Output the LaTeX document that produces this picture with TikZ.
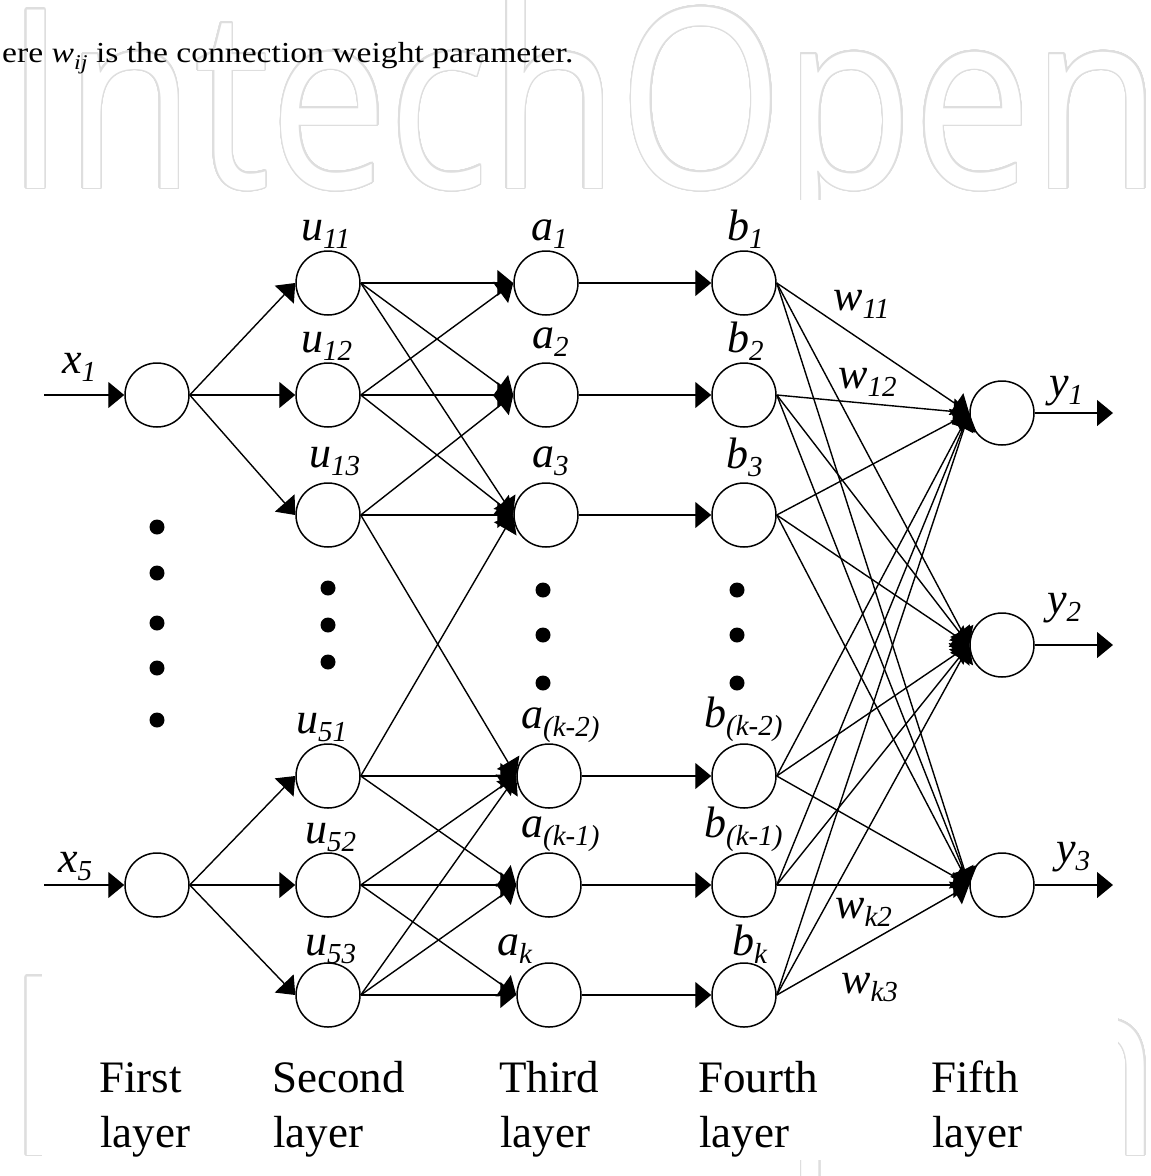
\documentclass[tikz,border=0pt]{standalone}
\usepackage{fontspec}
\usepackage{graphicx}
\usepackage[copies]{contour}
\setmainfont{Liberation Serif}
\newfontfamily\wmfont{Open Sans}
\usetikzlibrary{arrows.meta}

% lowered italic index used in the node labels
\newcommand\lsub[1]{\raisebox{-8pt}{\fontsize{29}{29}\selectfont #1}}
% hollow lettering of the background logo
\contourlength{1.7pt}
\contournumber{32}
\newcommand\logoword{\scalebox{0.846}[1]{\wmfont\fontsize{250}{250}\selectfont\contour{black!13}{IntechOpen}}}

\begin{document}
\begin{tikzpicture}[x=1pt,y=-1pt,
  neuron/.style={circle,draw=black,line width=1.5pt,minimum size=64pt,inner sep=0pt},
  link/.style={line width=1.4pt,-{Triangle[length=16pt,width=26pt]}},
  lab/.style={anchor=base west,inner sep=0pt,font=\fontsize{44}{44}\selectfont\itshape},
  layertitle/.style={anchor=base west,inner sep=0pt,font=\fontsize{45}{45}\selectfont},
  logo/.style={anchor=base west,inner sep=0pt,text=white},
  dot/.style={fill=black}
]
\useasboundingbox (0,0) rectangle (1151,1176);
\fill[white] (0,0) rectangle (1151,1176);

% background logo, two rows, partly covered by the figure panel
\node[logo] (logotop) at (6,188) {\logoword};
\node[logo] (logobot) at (6,1155) {\logoword};
\fill[white] (42,200) rectangle (1118,1160);

% running text line
\node[anchor=base west,inner sep=0pt] (caption) at (2,62)
  {\scalebox{1.16}[1]{\fontsize{29}{29}\selectfont ere \textit{w}\raisebox{-7pt}{\fontsize{21}{21}\selectfont\textit{ij}} is the connection weight parameter.}};

% first layer
\node[neuron] (x1n) at (157,395) {};
\node[neuron] (x5n) at (157,885) {};
% second layer
\node[neuron] (u11) at (328,283) {};
\node[neuron] (u12) at (328,395) {};
\node[neuron] (u13) at (328,515) {};
\node[neuron] (u51) at (328,776) {};
\node[neuron] (u52) at (328,885) {};
\node[neuron] (u53) at (328,995) {};
% third layer
\node[neuron] (a1) at (546,283) {};
\node[neuron] (a2) at (546,395) {};
\node[neuron] (a3) at (546,515) {};
\node[neuron] (ak2) at (549,776) {};
\node[neuron] (ak1) at (549,885) {};
\node[neuron] (ak) at (549,995) {};
% fourth layer
\node[neuron] (b1) at (744,283) {};
\node[neuron] (b2) at (744,395) {};
\node[neuron] (b3) at (744,515) {};
\node[neuron] (bk2) at (744,776) {};
\node[neuron] (bk1) at (744,885) {};
\node[neuron] (bk) at (744,995) {};
% fifth layer
\node[neuron] (y1n) at (1002,413) {};
\node[neuron] (y2n) at (1002,645) {};
\node[neuron] (y3n) at (1002,885) {};

% inputs and outputs
\coordinate (in1) at (44,395);
\coordinate (in5) at (44,885);
\coordinate (out1) at (1113,413);
\coordinate (out2) at (1113,645);
\coordinate (out3) at (1113,885);
\draw[link] (in1) -- (x1n.west);
\draw[link] (in5) -- (x5n.west);
\draw[link] (y1n.east) -- (out1);
\draw[link] (y2n.east) -- (out2);
\draw[link] (y3n.east) -- (out3);

% first -> second layer
\foreach \t in {u11,u12,u13} \draw[link] (x1n.east) -- (\t.west);
\foreach \t in {u51,u52,u53} \draw[link] (x5n.east) -- (\t.west);

% second -> third layer
\foreach \s/\t in {u11/a1,u11/a2,u11/a3,
                   u12/a1,u12/a2,u12/a3,
                   u13/a2,u13/a3,u13/ak2,
                   u51/a3,u51/ak2,u51/ak1,
                   u52/ak2,u52/ak1,u52/ak,
                   u53/ak2,u53/ak1,u53/ak}
  \draw[link] (\s.east) -- (\t.west);

% third -> fourth layer
\foreach \s/\t in {a1/b1,a2/b2,a3/b3,ak2/bk2,ak1/bk1,ak/bk}
  \draw[link] (\s.east) -- (\t.west);

% fourth -> fifth layer
\foreach \s in {b1,b2,b3,bk2,bk1,bk}
  \foreach \t in {y1n,y2n,y3n}
    \draw[link] (\s.east) -- (\t.west);

% ellipsis dots
\foreach \yy in {527,573,623,668,720} \fill[dot] (157,\yy) circle (7.5pt);
\foreach \yy in {588,625,662} \fill[dot] (328,\yy) circle (7.5pt);
\foreach \yy in {590,635,683} \fill[dot] (543,\yy) circle (7.5pt);
\foreach \yy in {590,635,683} \fill[dot] (737,\yy) circle (7.5pt);

% labels
\node[lab] (lx1) at (62,373) {x\lsub{1}};
\node[lab] (lx5) at (58,872) {x\lsub{5}};
\node[lab] (lu11) at (301,240) {u\lsub{11}};
\node[lab] (lu12) at (301,352) {u\lsub{12}};
\node[lab] (lu13) at (309,467) {u\lsub{13}};
\node[lab] (lu51) at (296,733) {u\lsub{51}};
\node[lab] (lu52) at (305,843) {u\lsub{52}};
\node[lab] (lu53) at (305,955) {u\lsub{53}};
\node[lab] (la1) at (531,240) {a\lsub{1}};
\node[lab] (la2) at (532,348) {a\lsub{2}};
\node[lab] (la3) at (532,467) {a\lsub{3}};
\node[lab] (lak2) at (521,728) {a\lsub{(k-2)}};
\node[lab] (lak1) at (521,837) {a\lsub{(k-1)}};
\node[lab] (lak) at (497,955) {a\lsub{k}};
\node[lab] (lb1) at (727,240) {b\lsub{1}};
\node[lab] (lb2) at (727,352) {b\lsub{2}};
\node[lab] (lb3) at (726,468) {b\lsub{3}};
\node[lab] (lbk2) at (704,727) {b\lsub{(k-2)}};
\node[lab] (lbk1) at (704,837) {b\lsub{(k-1)}};
\node[lab] (lbk) at (732,955) {b\lsub{k}};
\node[lab] (lw11) at (833,310) {w\lsub{11}};
\node[lab] (lw12) at (838,388) {w\lsub{12}};
\node[lab] (lwk2) at (835,918) {w\lsub{k2}};
\node[lab] (lwk3) at (841,993) {w\lsub{k3}};
\node[lab] (ly1) at (1049,396) {y\lsub{1}};
\node[lab] (ly2) at (1047,613) {y\lsub{2}};
\node[lab] (ly3) at (1056,862) {y\lsub{3}};

% layer names
\foreach \name/\xx [count=\i] in {First/99,Second/272,Third/499,Fourth/698,Fifth/931}{
  \node[layertitle] (t\i) at (\xx,1092) {\name};
  \node[layertitle] (l\i) at (\xx+1,1147) {layer};
}
\end{tikzpicture}
\end{document}
